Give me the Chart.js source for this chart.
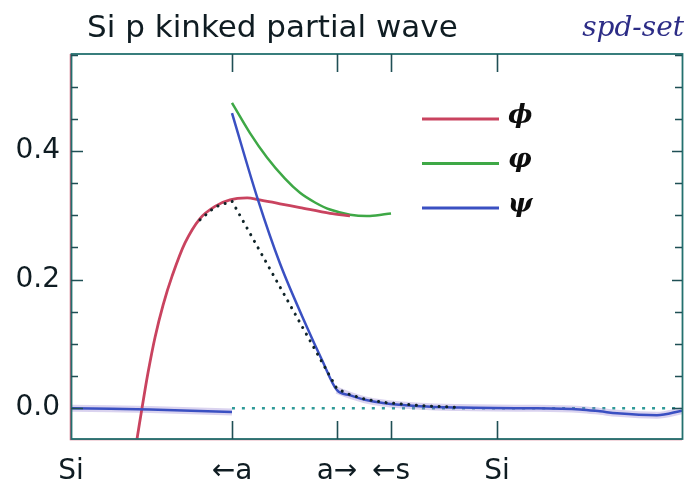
<!DOCTYPE html>
<html>
<head>
<meta charset="utf-8">
<script src="https://cdn.jsdelivr.net/npm/chart.js@4/dist/chart.umd.min.js"></script>
<style>
  html, body { margin: 0; padding: 0; background: #fff; }
  #wrap { width: 696px; height: 490px; }
</style>
</head>
<body>
<div id="wrap"><canvas id="waveChart" width="696" height="490"></canvas></div>
<script>
// positions along the bond, arbitrary units (Si at 0 and 4.26)
const siteX = [0, 1.61, 2.66, 3.20, 4.26];
const siteLabels = ['Si', '\u2190a', 'a\u2192', '\u2190s', 'Si'];
const yLabelVals = [0, 0.2, 0.4];

// phi (red)
const phiX = [0.61, 0.66, 0.71, 0.77, 0.84, 0.92, 1.01, 1.14, 1.29, 1.44, 1.59, 1.76, 1.86, 2.09, 2.29, 2.59, 2.79];
const phiY = [-0.096, -0.048, 0.0, 0.055, 0.110, 0.160, 0.205, 0.257, 0.295, 0.314, 0.324, 0.327, 0.325, 0.318, 0.312, 0.303, 0.299];

// varphi (green)
const varphiX = [1.61, 1.79, 1.96, 2.14, 2.29, 2.44, 2.59, 2.79, 2.99, 3.20];
const varphiY = [0.475, 0.428, 0.390, 0.357, 0.335, 0.320, 0.309, 0.301, 0.299, 0.303];

// psi (blue), inside and outside the kink
const psiX = [1.61, 1.87, 2.09, 2.36, 2.51, 2.66, 2.79, 2.94, 3.12, 3.49, 3.89, 4.49, 5.09, 5.29, 5.46, 5.86, 6.11];
const psiY = [0.459, 0.324, 0.225, 0.126, 0.075, 0.028, 0.020, 0.013, 0.008, 0.003, 0.001, 0.0, -0.002, -0.005, -0.008, -0.011, -0.004];
const psiLeftX = [0, 0.79, 1.61];
const psiLeftY = [0.0, -0.002, -0.006];

// dotted kinked wave
const dotX = [1.29, 1.44, 1.61, 2.66, 2.79, 2.94, 3.12, 3.49, 3.89];
const dotY = [0.293, 0.313, 0.322, 0.030, 0.021, 0.014, 0.009, 0.004, 0.001];

// zero reference line
const zeroX = [1.61, 6.11];

const legendLabels = ['\u03d5', '\u03c6', '\u03c8'];
const legendColors = ['#c9435f', '#3ea846', '#3a50c2'];

const X_MIN = 0, X_MAX = 6.11;
const Y_MIN = -0.048, Y_MAX = 0.551;

function toPoints(xs, ys) {
    return xs.map((v, i) => ({ x: v, y: ys[i] }));
}

const lineBase = {
    pointRadius: 0,
    fill: false,
    tension: 0.3
};

const frameTicks = {
    id: 'frameTicks',
    afterDraw(chart) {
        const ctx = chart.ctx;
        const a = chart.chartArea;
        const xs = chart.scales.x;
        const ys = chart.scales.y;
        ctx.save();

        // frame, with the slight red/teal offset of the scan
        ctx.lineWidth = 1.5;
        ctx.strokeStyle = 'rgba(200, 70, 100, 0.85)';
        ctx.beginPath();
        ctx.moveTo(a.left - 0.5, a.top);
        ctx.lineTo(a.left - 0.5, a.bottom + 0.5);
        ctx.lineTo(a.right, a.bottom + 0.5);
        ctx.stroke();
        ctx.strokeStyle = '#23706f';
        ctx.lineWidth = 1.8;
        ctx.strokeRect(a.left + 0.5, a.top, a.right - a.left, a.bottom - a.top);

        // y ticks every 0.05 on both sides
        ctx.strokeStyle = '#1f4f55';
        ctx.lineWidth = 1.6;
        for (let k = 0; k <= 11; k++) {
            const v = k * 0.05;
            const py = Math.round(ys.getPixelForValue(v)) + 0.5;
            const major = k % 4 === 0;
            ctx.beginPath();
            ctx.moveTo(a.left, py);
            ctx.lineTo(a.left + (major ? 12 : 7), py);
            ctx.moveTo(a.right, py);
            ctx.lineTo(a.right - (major ? 10 : 7), py);
            ctx.stroke();
        }

        // x ticks on top and bottom
        siteX.forEach(v => {
            if (v === X_MIN) return;
            const px = Math.round(xs.getPixelForValue(v)) + 0.5;
            ctx.beginPath();
            ctx.moveTo(px, a.top);
            ctx.lineTo(px, a.top + 18);
            ctx.moveTo(px, a.bottom);
            ctx.lineTo(px, a.bottom - 18);
            ctx.stroke();
        });

        // legend inside the plot
        const lx = 422, ly = 119, gap = 44.5;
        legendLabels.forEach((lab, i) => {
            const yy = ly + i * gap;
            ctx.strokeStyle = legendColors[i];
            ctx.lineWidth = 3;
            ctx.beginPath();
            ctx.moveTo(lx, yy);
            ctx.lineTo(lx + 77, yy);
            ctx.stroke();
            ctx.fillStyle = '#0d0d0d';
            ctx.font = 'italic bold 26px "DejaVu Serif"';
            ctx.textBaseline = 'middle';
            ctx.textAlign = 'left';
            ctx.fillText(lab, lx + 86, yy - 3);
        });

        // title and tag
        ctx.fillStyle = '#0f1c22';
        ctx.font = '31px "DejaVu Sans"';
        ctx.textBaseline = 'alphabetic';
        ctx.textAlign = 'left';
        ctx.fillText('Si p kinked partial wave', 87, 37);

        ctx.fillStyle = '#2c2c86';
        ctx.font = 'italic 28px "DejaVu Serif"';
        ctx.textAlign = 'right';
        ctx.fillText('spd-set', 684, 36);
        ctx.restore();
    }
};

function initializeChart() {
    const ctx = document.getElementById('waveChart').getContext('2d');

    new Chart(ctx, {
        type: 'line',
        data: {
            datasets: [
                {
                    ...lineBase,
                    data: toPoints(dotX, dotY),
                    borderColor: '#102428',
                    borderWidth: 3,
                    borderDash: [0.1, 7.5],
                    borderCapStyle: 'round',
                    tension: 0,
                    order: 1
                },
                {
                    ...lineBase,
                    data: toPoints(psiX, psiY),
                    borderColor: legendColors[2],
                    borderWidth: 2.5,
                    cubicInterpolationMode: 'monotone',
                    order: 2
                },
                {
                    ...lineBase,
                    data: toPoints(psiLeftX, psiLeftY),
                    borderColor: legendColors[2],
                    borderWidth: 2.5,
                    order: 2
                },
                {
                    ...lineBase,
                    data: toPoints(phiX, phiY),
                    borderColor: legendColors[0],
                    borderWidth: 2.8,
                    order: 3
                },
                {
                    ...lineBase,
                    data: toPoints(varphiX, varphiY),
                    borderColor: legendColors[1],
                    borderWidth: 2.5,
                    order: 4
                },
                {
                    // soft lavender band under the blue tails
                    ...lineBase,
                    data: toPoints(psiX, psiY).filter(p => p.x >= 2.66),
                    borderColor: 'rgba(150, 130, 210, 0.35)',
                    borderWidth: 7,
                    cubicInterpolationMode: 'monotone',
                    order: 5
                },
                {
                    ...lineBase,
                    data: toPoints(psiLeftX, psiLeftY),
                    borderColor: 'rgba(150, 130, 210, 0.35)',
                    borderWidth: 7,
                    order: 5
                },
                {
                    ...lineBase,
                    data: zeroX.map(v => ({ x: v, y: 0 })),
                    borderColor: '#2f9a98',
                    borderWidth: 2.5,
                    borderDash: [3, 7],
                    order: 6
                }
            ]
        },
        options: {
            responsive: false,
            animation: false,
            layout: {
                padding: { top: 54, right: 14, left: 0, bottom: 0 }
            },
            plugins: {
                legend: { display: false },
                tooltip: { enabled: false },
                title: { display: false }
            },
            scales: {
                x: {
                    type: 'linear',
                    min: X_MIN,
                    max: X_MAX,
                    grid: { display: false },
                    border: { display: false },
                    afterBuildTicks: scale => {
                        scale.ticks = siteX.map(v => ({ value: v }));
                    },
                    afterFit: scale => { scale.height = 51; },
                    ticks: {
                        autoSkip: false,
                        maxRotation: 0,
                        padding: 8,
                        color: '#0f1c22',
                        font: { family: 'DejaVu Sans', size: 28 },
                        callback: (v, i) => siteLabels[i]
                    }
                },
                y: {
                    min: Y_MIN,
                    max: Y_MAX,
                    grid: { display: false },
                    border: { display: false },
                    afterBuildTicks: scale => {
                        scale.ticks = yLabelVals.map(v => ({ value: v }));
                    },
                    afterFit: scale => { scale.width = 71; },
                    ticks: {
                        padding: 3,
                        color: '#0f1c22',
                        font: { family: 'DejaVu Sans', size: 28 },
                        callback: v => v.toFixed(1)
                    }
                }
            }
        },
        plugins: [frameTicks]
    });
}

document.addEventListener('DOMContentLoaded', initializeChart);
</script>
</body>
</html>
